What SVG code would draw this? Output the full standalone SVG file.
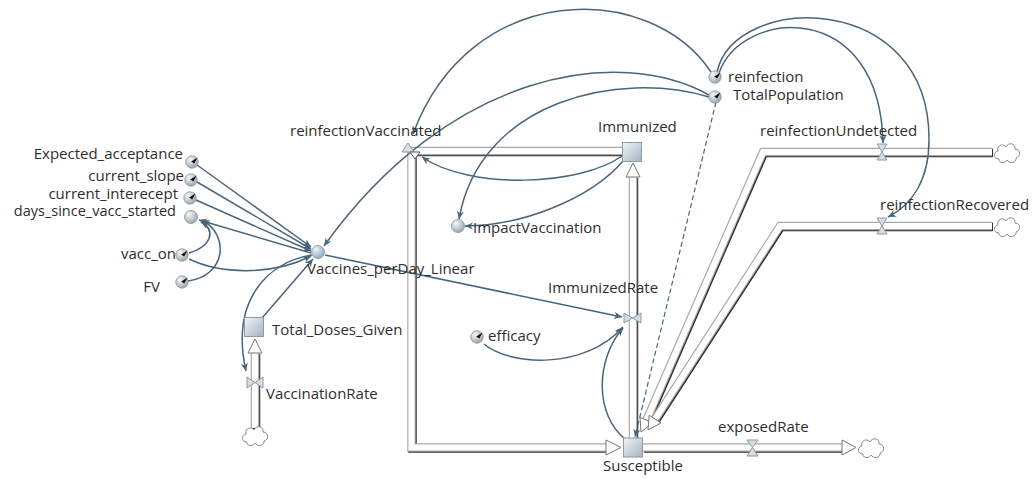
<svg xmlns="http://www.w3.org/2000/svg" xmlns:xlink="http://www.w3.org/1999/xlink" width="1032" height="479" viewBox="0 0 1032 479">
<style>
text{font-family:"Open Sans","Noto Sans","DejaVu Sans",sans-serif;font-size:15px;fill:#2e2e2e}
.e{text-anchor:end}
.sm{font-size:14.5px}
.link{fill:none;stroke:#4a6579;stroke-width:1.5;marker-end:url(#arr)}
.dash{stroke-dasharray:5 3;stroke-width:1.2}
.pS{fill:none;stroke:#2f2f2f;stroke-width:8.5;stroke-linejoin:miter}
.pE{fill:none;stroke:#a8a8a8;stroke-width:8.5;stroke-linejoin:miter}
.pF{fill:none;stroke:#ffffff;stroke-width:6.2;stroke-linejoin:miter}
.ah{fill:#fff;stroke:#777;stroke-width:1}
.valve{fill:#d7dde2;stroke:#8c99a3;stroke-width:1}
.cloud{fill:#fff;stroke:#8a8a8a;stroke-width:1}
</style>
<defs>
<marker id="arr" viewBox="0 0 10 10" refX="10" refY="5" markerWidth="10" markerHeight="8" markerUnits="userSpaceOnUse" orient="auto">
<path d="M0,0.5 L10,5 L0,9.5 L3,5 Z" fill="#4a6579"/>
</marker>
<radialGradient id="gC" cx="0.35" cy="0.3" r="0.75">
<stop offset="0" stop-color="#f7f8f9"/><stop offset="1" stop-color="#99a3ab"/>
</radialGradient>
<radialGradient id="gB" cx="0.35" cy="0.3" r="0.75">
<stop offset="0" stop-color="#eef5f9"/><stop offset="1" stop-color="#88a9bd"/>
</radialGradient>
<linearGradient id="gS" x1="0" y1="0" x2="1" y2="1">
<stop offset="0" stop-color="#f1f5f8"/><stop offset="1" stop-color="#a3b3c0"/>
</linearGradient>
<g id="param">
<circle r="6.2" fill="url(#gC)" stroke="#8a8f94" stroke-width="0.8"/>
<path d="M5.6,-4.6 L-0.8,-0.6 L2.2,1.6 Z" fill="#111"/>
</g>
<g id="aux"><circle r="6.5" fill="url(#gC)" stroke="#8a8f94" stroke-width="0.8"/></g>
<g id="stock"><rect x="-9.5" y="-9.5" width="19" height="19" fill="url(#gS)" stroke="#8e9aa4" stroke-width="1"/></g>
<path id="cl" d="M-8,6 C-14,6 -14,-1 -9,-2 C-11,-8 -3,-10 -1,-6 C1,-11 9,-10 8,-4 C14,-4 14,4 9,5 C10,10 2,11 0,7 C-2,11 -9,10 -8,6 Z"/>
<path id="p1" d="M622,151 H411.5 V447.5 H606"/>
<path id="p2" d="M633,438 V177"/>
<path id="p3" d="M643,447.5 H842"/>
<path id="p4" d="M992,152 H763 L646.4,420.2"/>
<path id="p5" d="M992,226 H780 L655.1,419.1"/>
<path id="p6" d="M255,428 V353"/>
</defs>
<rect width="1032" height="479" fill="#ffffff"/>

<g id="flows">
<use href="#p1" class="pS" transform="translate(1,1)"/><use href="#p1" class="pE"/><use href="#p1" class="pF"/>
<use href="#p2" class="pS" transform="translate(1,1)"/><use href="#p2" class="pE"/><use href="#p2" class="pF"/>
<use href="#p3" class="pS" transform="translate(1,1)"/><use href="#p3" class="pE"/><use href="#p3" class="pF"/>
<use href="#p4" class="pS" transform="translate(1,1)"/><use href="#p4" class="pE"/><use href="#p4" class="pF"/>
<use href="#p5" class="pS" transform="translate(1,1)"/><use href="#p5" class="pE"/><use href="#p5" class="pF"/>
<use href="#p6" class="pS" transform="translate(1,1)"/><use href="#p6" class="pE"/><use href="#p6" class="pF"/>
<polygon class="ah" points="606,440 621,447.5 606,455"/>
<polygon class="ah" points="626,177 633,163 640,177"/>
<polygon class="ah" points="842,440 856,447.5 842,455"/>
<polygon class="ah" points="652.8,423.1 641,432 640,417.3"/>
<polygon class="ah" points="661,422.9 648,430 649.2,415.3"/>
<polygon class="ah" points="248,353 255,339 262,353"/>
<use href="#cl" class="cloud" x="255" y="436"/>
<use href="#cl" class="cloud" x="871" y="448"/>
<use href="#cl" class="cloud" x="1007" y="153"/>
<use href="#cl" class="cloud" x="1007" y="227"/>
</g>

<g id="connectors">
<path class="link" d="M197,165 L311,247"/>
<path class="link" d="M197,182 L311,249"/>
<path class="link" d="M196,200 L311,251"/>
<path class="link" d="M311,253 L199,220"/>
<path class="link" d="M189,253 C212,246 216,230 201,222"/>
<path class="link" d="M188,281 C226,276 230,235 202,220"/>
<path class="link" d="M189,259 C220,274 272,276 311,256"/>
<path class="link" d="M262,318 L313,259"/>
<path class="link" d="M312,255 C268,262 230,300 246,371"/>
<path class="link" d="M325,255 L622,317"/>
<path class="link" d="M711,72 C650,-20 470,-20 413,134"/>
<path class="link" d="M709,95 C620,45 450,70 324,246"/>
<path class="link" d="M709,97 C620,70 480,100 459,219"/>
<path class="link" d="M622,156 C580,186 470,190 422,157"/>
<path class="link" d="M624,160 C590,200 520,226 465,226"/>
<path class="link" d="M484,344 C510,366 585,370 623,327"/>
<path class="link" d="M625,439 C595,415 595,360 623,328"/>
<path class="link dash" d="M716,102 L635,437"/>
<path class="link" d="M719,73 C742,8 880,-2 883,143"/>
<path class="link" d="M717,72 C735,-8 930,-10 929,140 C929,180 912,205 888,217"/>
</g>

<g id="Expected_acceptance"><use href="#param" x="192" y="162"/><text class="e" x="183" y="159">Expected_acceptance</text></g>
<g id="current_slope"><use href="#param" x="191" y="180"/><text class="e" x="184" y="181">current_slope</text></g>
<g id="current_interecept"><use href="#param" x="190" y="198"/><text class="e" x="178" y="199">current_interecept</text></g>
<g id="days_since_vacc_started"><use href="#aux" x="191" y="217"/><text class="e sm" x="176" y="216">days_since_vacc_started</text></g>
<g id="vacc_on"><use href="#param" x="182" y="255"/><text class="e" x="176" y="259">vacc_on</text></g>
<g id="FV"><use href="#param" x="182" y="282"/><text class="e" x="160" y="292">FV</text></g>
<g id="Vaccines_perDay_Linear"><circle cx="318" cy="252" r="6.5" fill="url(#gB)" stroke="#7f98a8" stroke-width="0.8"/><text x="307" y="274">Vaccines_perDay_Linear</text></g>
<g id="Total_Doses_Given"><use href="#stock" x="254" y="327"/><text x="272" y="335">Total_Doses_Given</text></g>
<g id="VaccinationRate"><polygon class="valve" points="247,377 255,382.5 247,388"/><polygon class="valve" points="263,377 255,382.5 263,388"/><text x="266" y="399">VaccinationRate</text></g>
<g id="reinfectionVaccinated"><polygon class="valve" points="402,152 408,143 414,152"/><polygon fill="#fff" stroke="#555" stroke-width="1" points="410,152 420,152 415,159"/><text x="290" y="136">reinfectionVaccinated</text></g>
<g id="Immunized"><use href="#stock" x="632" y="152"/><text x="598" y="132">Immunized</text></g>
<g id="ImpactVaccination"><use href="#aux" x="458" y="226"/><text x="473" y="233">ImpactVaccination</text></g>
<g id="ImmunizedRate"><polygon class="valve" points="624,313 632.5,318 624,323"/><polygon class="valve" points="641,313 632.5,318 641,323"/><text x="548" y="293">ImmunizedRate</text></g>
<g id="efficacy"><use href="#param" x="477" y="337"/><text x="488" y="341">efficacy</text></g>
<g id="Susceptible"><use href="#stock" x="633" y="447.5"/><text x="603" y="471">Susceptible</text></g>
<g id="exposedRate"><polygon class="valve" points="747,440 752.5,447.5 758,440"/><polygon class="valve" points="747,456 752.5,447.5 758,456"/><text x="718" y="432">exposedRate</text></g>
<g id="reinfection"><use href="#param" x="715" y="77"/><text x="728" y="82">reinfection</text></g>
<g id="TotalPopulation"><use href="#param" x="715" y="97"/><text x="733" y="100">TotalPopulation</text></g>
<g id="reinfectionUndetected"><polygon class="valve" points="877,144 882,152 887,144"/><polygon class="valve" points="877,160 882,152 887,160"/><text x="760" y="136">reinfectionUndetected</text></g>
<g id="reinfectionRecovered"><polygon class="valve" points="877,218 882,226 887,218"/><polygon class="valve" points="877,234 882,226 887,234"/><text x="880" y="210">reinfectionRecovered</text></g>
</svg>
